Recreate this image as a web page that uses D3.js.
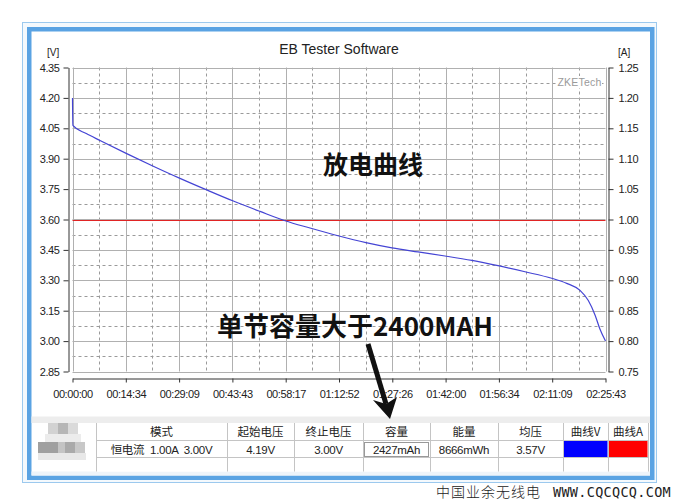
<!DOCTYPE html>
<html><head><meta charset="utf-8">
<script src="https://cdn.jsdelivr.net/npm/d3@7/dist/d3.min.js"></script>
<style>body{margin:0;background:#fff;overflow:hidden}</style>
</head><body><svg id="c" width="680" height="504"></svg>
<script>
// ---------------- data ----------------
const timeSec = [0, 6, 226, 451, 889, 1325, 1763, 2201, 2638, 3076, 3486, 3896, 4355, 4814, 5241, 5667, 6110, 6553, 6980, 7422, 7860, 8106, 8325, 8461, 8571, 8653, 8743];
const voltage = [4.20, 4.064, 4.024, 3.990, 3.925, 3.863, 3.803, 3.746, 3.691, 3.640, 3.594, 3.558, 3.520, 3.486, 3.460, 3.440, 3.420, 3.398, 3.372, 3.342, 3.310, 3.285, 3.250, 3.200, 3.129, 3.058, 3.000];
const currentTime = [0, 8743];
const current = [1.00, 1.00];
const vTicks = [2.85, 3.00, 3.15, 3.30, 3.45, 3.60, 3.75, 3.90, 4.05, 4.20, 4.35];
const aTicks = [0.75, 0.80, 0.85, 0.90, 0.95, 1.00, 1.05, 1.10, 1.15, 1.20, 1.25];
const xTickLabels = ["00:00:00","00:14:34","00:29:09","00:43:43","00:58:17","01:12:52","01:27:26","01:42:00","01:56:34","02:11:09","02:25:43"];
const totalSec = 8743;
const tableHeaders = ["模式","起始电压","终止电压","容量","能量","均压","曲线V","曲线A"];
const tableValues = ["恒电流  1.00A  3.00V","4.19V","3.00V","2427mAh","8666mWh","3.57V","",""];
const swatchColors = [null,null,null,null,null,null,"#0000ff","#ff0000"];

// ---------------- layout ----------------
const svg = d3.select("#c");
const FONT = "'Liberation Sans', Arial, 'Noto Sans CJK SC', sans-serif";
const CJK = "'Noto Sans CJK SC', 'Liberation Sans', sans-serif";

// frame
svg.append("rect").attr("x",22.5).attr("y",22.5).attr("width",634).attr("height",460)
  .attr("fill","#f4f9fd").attr("stroke","#9cc9ee").attr("stroke-width",1);
svg.append("rect").attr("x",29.25).attr("y",29.25).attr("width",623).attr("height",448.5)
  .attr("fill","#fff").attr("stroke","#5aa3e3").attr("stroke-width",4.5);
// gray band above table
svg.append("rect").attr("x",31.5).attr("y",416.5).attr("width",618.5).attr("height",6.5).attr("fill","#ededed");
svg.append("rect").attr("x",31.5).attr("y",471.5).attr("width",618.5).attr("height",4).attr("fill","#eef4fa");

// scales
const x = d3.scaleLinear().domain([0, totalSec]).range([72.5, 605.5]);
const yV = d3.scaleLinear().domain([2.85, 4.35]).range([371.5, 67.5]);
const yA = d3.scaleLinear().domain([0.75, 1.25]).range([371.5, 67.5]);
const xTickVals = xTickLabels.map((d,i) => i * totalSec / (xTickLabels.length - 1));

// grid
const g = svg.append("g");
const minorV = d3.range(vTicks.length - 1).map(i => (vTicks[i] + vTicks[i+1]) / 2);
const minorX = d3.range(xTickVals.length - 1).map(i => (xTickVals[i] + xTickVals[i+1]) / 2);
g.selectAll(".mh").data(minorV).join("line")
  .attr("x1", x(0)).attr("x2", x(totalSec)).attr("y1", d => Math.round(yV(d)) + 0.5).attr("y2", d => Math.round(yV(d)) + 0.5)
  .attr("stroke","#9a9a9a").attr("stroke-width",1).attr("stroke-dasharray","3,3");
g.selectAll(".mv").data(minorX).join("line")
  .attr("y1", yV(4.35)).attr("y2", yV(2.85)).attr("x1", d => Math.round(x(d)) + 0.5).attr("x2", d => Math.round(x(d)) + 0.5)
  .attr("stroke","#9a9a9a").attr("stroke-width",1).attr("stroke-dasharray","3,3");
g.selectAll(".Mh").data(vTicks).join("line")
  .attr("x1", x(0)).attr("x2", x(totalSec)).attr("y1", d => Math.round(yV(d)) + 0.5).attr("y2", d => Math.round(yV(d)) + 0.5)
  .attr("stroke","#b0b0b0").attr("stroke-width",1);
g.selectAll(".Mv").data(xTickVals).join("line")
  .attr("y1", yV(4.35)).attr("y2", yV(2.85)).attr("x1", d => Math.round(x(d)) + 0.5).attr("x2", d => Math.round(x(d)) + 0.5)
  .attr("stroke","#b0b0b0").attr("stroke-width",1);

// ZKETech label
svg.append("rect").attr("x",557).attr("y",76).attr("width",45).attr("height",12).attr("fill","#fff");
svg.append("text").attr("x",579.5).attr("y",86).attr("text-anchor","middle")
  .attr("font-family",FONT).attr("font-size",10.5).attr("fill","#9a9a9a").attr("letter-spacing","0.2").text("ZKETech");

// current line (red)
svg.append("path").datum(currentTime.map((t,i)=>[t,current[i]]))
  .attr("d", d3.line().x(d=>x(d[0])).y(d=>Math.round(yA(d[1]))+0.5))
  .attr("fill","none").attr("stroke","#e02424").attr("stroke-width",1);
// voltage line (blue)
svg.append("path").datum(timeSec.map((t,i)=>[t,voltage[i]]))
  .attr("d", d3.line().curve(d3.curveMonotoneX).x(d=>x(d[0])).y(d=>yV(d[1])))
  .attr("fill","none").attr("stroke","#4444d4").attr("stroke-width",1.2);

// axes
function styleAxis(sel){
  sel.selectAll("path,line").attr("stroke","#333");
  sel.selectAll("text").attr("font-family",FONT).attr("font-size",11).attr("fill","#222").attr("letter-spacing","-0.4");
}
const left = svg.append("g").attr("transform","translate(68.5,0)")
  .call(d3.axisLeft(yV).tickValues(vTicks).tickFormat(d3.format(".2f")).tickSize(5).tickSizeOuter(0).tickPadding(4));
styleAxis(left);
const right = svg.append("g").attr("transform","translate(608.5,0)")
  .call(d3.axisRight(yA).tickValues(aTicks).tickFormat(d3.format(".2f")).tickSize(5).tickSizeOuter(0).tickPadding(5));
styleAxis(right);
const bottom = svg.append("g").attr("transform","translate(0,378.5)")
  .call(d3.axisBottom(x).tickValues(xTickVals).tickFormat((d,i)=>xTickLabels[i]).tickSize(4).tickSizeOuter(0).tickPadding(8));
styleAxis(bottom);

// titles
svg.append("text").attr("x",339).attr("y",54).attr("text-anchor","middle")
  .attr("font-family",FONT).attr("font-size",14).attr("fill","#222").text("EB Tester Software");
svg.append("text").attr("x",47).attr("y",56).attr("font-family",FONT).attr("font-size",10).attr("fill","#222").text("[V]");
svg.append("text").attr("x",618).attr("y",56).attr("font-family",FONT).attr("font-size",10).attr("fill","#222").text("[A]");

// annotations
svg.append("text").attr("x",323).attr("y",174).attr("font-family",CJK).attr("font-weight",700)
  .attr("font-size",25).attr("fill","#111").text("放电曲线");
svg.append("text").attr("x",217).attr("y",336).attr("font-family",CJK).attr("font-weight",700)
  .attr("font-size",26).attr("fill","#111").text("单节容量大于2400MAH");
// arrow
svg.append("line").attr("x1",368).attr("y1",344).attr("x2",386).attr("y2",404)
  .attr("stroke","#111").attr("stroke-width",5);
svg.append("path").attr("d","M390,419 L373,400 L386,404 L397,397 Z").attr("fill","#111");

// mosaic
const mosaic = [
  [45,434,36,8,"#ececec"],[38,453,48,7,"#e8e8e8"],
  [48,423,10,11,"#d2d2d2"],[58,423,10,11,"#b6b6b6"],[68,423,10,11,"#dadada"],
  [38,442,20,11,"#a0a0a0"],[58,442,7,11,"#c4c4c4"],[65,442,10,11,"#aaaaaa"],[75,442,10,11,"#c8c8c8"]
];
svg.selectAll(".mos").data(mosaic).join("rect")
  .attr("x",d=>d[0]).attr("y",d=>d[1]).attr("width",d=>d[2]).attr("height",d=>d[3]).attr("fill",d=>d[4]);

// table
const colX = [96,227,294,363,430,498,563,608,648];
const tb = svg.append("g");
tb.append("rect").attr("x",96).attr("y",423).attr("width",552).attr("height",48.5).attr("fill","#fff");
tableHeaders.forEach((h,i)=>{
  const cx = (colX[i]+colX[i+1])/2;
  tb.append("text").attr("x",cx).attr("y",436).attr("text-anchor","middle")
    .attr("font-family",CJK).attr("font-size",11.5).attr("fill","#222").text(h);
  if (swatchColors[i]) {
    tb.append("rect").attr("x",colX[i]+0.5).attr("y",441).attr("width",colX[i+1]-colX[i]-1).attr("height",16)
      .attr("fill",swatchColors[i]);
  }
  if (tableValues[i]) {
    tb.append("text").attr("x",cx).attr("y",454).attr("text-anchor","middle").attr("xml:space","preserve")
      .attr("font-family",FONT).attr("font-size",11.5).attr("fill","#222").attr("letter-spacing","-0.3").text(tableValues[i]);
  }
});
tb.selectAll(".hl").data([440.5,457.5]).join("line")
  .attr("x1",96).attr("x2",648).attr("y1",d=>d).attr("y2",d=>d).attr("stroke","#c4c4c4");
tb.selectAll(".vl").data(colX).join("line")
  .attr("x1",d=>d+0.5).attr("x2",d=>d+0.5).attr("y1",423).attr("y2",471.5).attr("stroke","#c4c4c4");
tb.append("rect").attr("x",364.5).attr("y",442.5).attr("width",64).attr("height",14)
  .attr("fill","none").attr("stroke","#333").attr("stroke-dasharray","1,1");

// watermark
const wm = svg.append("text").attr("y",497).attr("font-size",14).attr("fill","#222");
wm.append("tspan").attr("x",436).attr("font-family",CJK).attr("font-weight",300).attr("letter-spacing","1").text("中国业余无线电");
wm.append("tspan").attr("x",553).attr("font-family","'DejaVu Sans Mono', 'Liberation Mono', monospace")
  .attr("font-size",13.5).attr("letter-spacing","0.3").text("WWW.CQCQCQ.COM");
</script></body></html>
